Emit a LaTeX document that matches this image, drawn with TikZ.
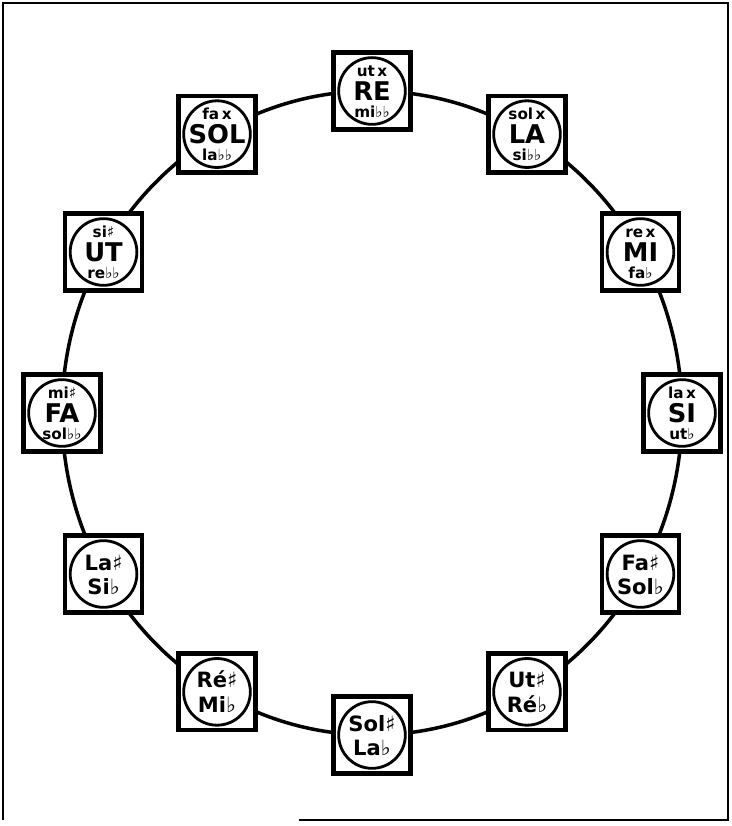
\documentclass[tikz,border=0pt]{standalone}
\usepackage{fontspec}
\setmainfont{DejaVu Sans}
\usetikzlibrary{positioning}

% a key on the wheel: name, angle, upper note, main note, lower note
\newcommand{\keythree}[5]{%
  \node[keybox] (#1) at (#2:9.3cm and 9.66cm) {};
  \node[keyring] (#1-ring) at (#1) {};
  \node[keynote] (#1-up) at ([yshift=0.6cm]#1-ring.center) {#3};
  \node[keyname] (#1-main) at ([yshift=-0.01cm]#1-ring.center) {#4};
  \node[keynote] (#1-low) at ([yshift=-0.63cm]#1-ring.center) {#5};}
% a black key: name, angle, sharp name, flat name
\newcommand{\keytwo}[4]{%
  \node[keybox] (#1) at (#2:9.3cm and 9.66cm) {};
  \node[keyring] (#1-ring) at (#1) {};
  \node[keypair] (#1-up) at ([yshift=0.36cm]#1-ring.center) {#3};
  \node[keypair] (#1-low) at ([yshift=-0.38cm]#1-ring.center) {#4};}

\begin{document}
\begin{tikzpicture}[
  keybox/.style={rectangle, draw, fill=white, line width=3.8pt, minimum size=2.3cm},
  keyring/.style={circle, draw, line width=2.4pt, minimum size=2cm, inner sep=0pt},
  keynote/.style={inner sep=0pt, text height=9.9pt, text depth=0pt, font=\bfseries\fontsize{13}{13}\selectfont},
  keyname/.style={inner sep=0pt, text height=16pt, text depth=0pt, font=\bfseries\fontsize{22}{22}\selectfont},
  keypair/.style={inner sep=0pt, text height=13.7pt, text depth=0pt, font=\bfseries\fontsize{18}{18}\selectfont},
  wheel/.style={line width=3pt},
  frame/.style={line width=1.8pt}
]
\useasboundingbox (-11.16,-12.39) rectangle (10.77,12.39);

% outer frame, open at the lower left
\draw[frame] (-2.2,-12.2) -- (10.68,-12.2) -- (10.68,12.3) -- (-11.07,12.3) -- (-11.07,-12.2);

% the wheel behind the keys
\draw[wheel] (0,0) ellipse [x radius=9.3cm, y radius=9.66cm];

% keys, clockwise from the top
\keythree{re}{90}{ut\,x}{RE}{mi♭♭}
\keythree{la}{60}{sol\,x}{LA}{si♭♭}
\keythree{mi}{30}{re\,x}{MI}{fa♭}
\keythree{si}{0}{la\,x}{SI}{ut♭}
\keytwo{fas}{-30}{Fa♯}{Sol♭}
\keytwo{uts}{-60}{Ut♯}{Ré♭}
\keytwo{sols}{-90}{Sol♯}{La♭}
\keytwo{res}{-120}{Ré♯}{Mi♭}
\keytwo{las}{-150}{La♯}{Si♭}
\keythree{fa}{180}{mi♯}{FA}{sol♭♭}
\keythree{ut}{150}{si♯}{UT}{re♭♭}
\keythree{sol}{120}{fa\,x}{SOL}{la♭♭}

\end{tikzpicture}
\end{document}
